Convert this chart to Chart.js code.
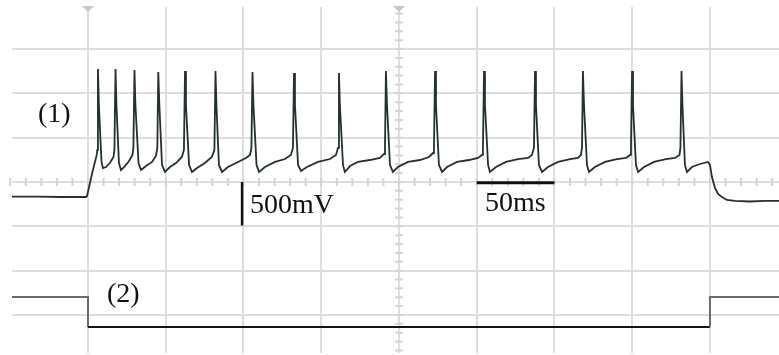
<!DOCTYPE html>
<html>
<head>
<meta charset="utf-8">
<script src="https://cdn.jsdelivr.net/npm/chart.js@4"></script>
<style>
  body { margin: 0; background: #fff; }
  canvas { display: block; }
</style>
</head>
<body>
<canvas id="scope" width="779" height="355"></canvas>
<script>
// trace (1): membrane response, time in ms, value in mV
const traceTimes = [
  1.1, 19.1, 32.0, 48.7, 49.4, 52.4, 55.6, 56.0,
  56.4, 57.0, 58.7, 59.6, 61.6, 64.1, 66.4, 67.0,
  67.7, 68.3, 69.9, 71.2, 73.8, 76.4, 78.6, 79.2,
  79.9, 80.5, 82.5, 84.1, 87.3, 91.2, 93.7, 94.6,
  95.2, 95.9, 97.6, 99.5, 102.7, 106.6, 110.4, 111.7,
  112.4, 113.0, 115.0, 116.9, 120.1, 125.2, 129.6, 131.3,
  132.0, 132.6, 134.2, 136.2, 140.0, 146.5, 151.6, 154.2, 155.1,
  155.8, 156.4, 158.4, 160.0, 163.8, 170.3, 176.7, 180.5, 181.8,
  182.5, 183.1, 185.1, 187.0, 190.8, 197.9, 205.6, 209.5, 210.8,
  211.4, 212.0, 214.0, 215.2, 218.5, 223.6, 231.3, 237.8, 240.4, 241.0,
  241.6, 242.3, 244.2, 246.1, 249.3, 255.8, 263.5, 269.3, 271.9, 272.5,
  273.2, 273.8, 275.7, 277.7, 280.9, 287.3, 295.0, 300.8, 303.4, 304.0,
  304.7, 305.3, 307.3, 308.5, 312.4, 318.8, 326.6, 333.0, 335.5, 336.8,
  337.5, 338.1, 340.0, 342.0, 345.8, 352.3, 360.0, 365.1, 367.0, 367.7,
  368.3, 369.0, 370.9, 372.2, 376.0, 382.5, 390.2, 396.0, 398.6, 399.2,
  399.9, 400.5, 402.4, 403.8, 407.6, 414.0, 421.7, 427.5, 430.4, 431.0,
  431.7, 432.3, 433.9, 435.2, 438.4, 443.6, 448.7, 450.0, 451.3, 453.2,
  455.2, 457.7, 460.9, 466.0, 475.7, 485.4, 494.4
];
const traceVolts = [
  -164, -164, -169, -169, -158, 79, 305, 361,
  1275, 869, 226, 158, 169, 214, 282, 361,
  1275, 869, 214, 135, 180, 237, 305, 384,
  1263, 869, 214, 135, 180, 226, 293, 384,
  1241, 869, 192, 113, 169, 214, 282, 361,
  1252, 869, 192, 113, 158, 214, 282, 361,
  1252, 869, 192, 113, 169, 226, 271, 305, 384,
  1241, 869, 192, 113, 169, 226, 259, 305, 384,
  1230, 869, 192, 124, 169, 226, 259, 305, 384,
  1230, 869, 192, 113, 180, 226, 248, 271, 316, 384,
  1252, 869, 192, 113, 169, 226, 248, 282, 327, 384,
  1252, 869, 192, 113, 169, 226, 248, 271, 305, 384,
  1252, 869, 192, 113, 169, 226, 259, 271, 305, 384,
  1252, 869, 192, 113, 169, 226, 259, 271, 305, 384,
  1252, 869, 192, 113, 169, 226, 259, 271, 305, 384,
  1252, 869, 192, 113, 169, 226, 259, 271, 305, 384,
  1252, 869, 192, 113, 169, 203, 226, 192, 56, -68,
  -135, -169, -203, -214, -220, -214, -214
];

// trace (2): stimulus step
const stepTimes = [1.1, 50.0, 50.0, 450.0, 450.0, 494.4];
const stepVolts = [-1297, -1297, -1636, -1636, -1297, -1297];

// scale bars (500mV, 50ms)
const barVTimes = [149.1, 149.1];
const barVVolts = [0, -490];
const barHTimes = [300, 350];
const barHVolts = [-8, -8];

// grid: 50 ms and 500 mV per division
const xGrid = [50, 100, 150, 200, 250, 300, 350, 400, 450];
const yGrid = [-1500, -1000, -500, 0, 500, 1000, 1500];

// labels [text, ms, mV]
const labels = [
  ['(1)', 17.8, 677],
  ['500mV', 154.2, -350],
  ['50ms', 305.3, -327],
  ['(2)', 62.2, -1354]
];

const toPoints = (xs, ys) => xs.map((x, i) => ({ x: x, y: ys[i] }));

// minor ticks on the centre axes + trigger markers
const scopeDecor = {
  id: 'scopeDecor',
  beforeDatasetsDraw(chart) {
    const ctx = chart.ctx;
    const xs = chart.scales.x;
    const ys = chart.scales.y;
    const cy = ys.getPixelForValue(0);
    const cx = xs.getPixelForValue(250);
    ctx.save();
    ctx.strokeStyle = '#d4d4d4';
    ctx.lineWidth = 2;
    ctx.beginPath();
    for (let t = 0; t <= 500; t += 10) {
      const px = xs.getPixelForValue(t);
      ctx.moveTo(px, cy - 4);
      ctx.lineTo(px, cy + 4);
    }
    for (let v = -2000; v <= 2000; v += 100) {
      const py = ys.getPixelForValue(v);
      if (py < chart.chartArea.top + 6) continue;
      ctx.moveTo(cx - 4, py);
      ctx.lineTo(cx + 4, py);
    }
    ctx.stroke();
    ctx.fillStyle = '#c8c8c8';
    [50, 250].forEach(t => {
      const px = xs.getPixelForValue(t);
      ctx.beginPath();
      ctx.moveTo(px - 6, 6);
      ctx.lineTo(px + 6, 6);
      ctx.lineTo(px, 12);
      ctx.closePath();
      ctx.fill();
    });
    ctx.restore();
  },
  afterDatasetsDraw(chart) {
    const ctx = chart.ctx;
    const xs = chart.scales.x;
    const ys = chart.scales.y;
    ctx.save();
    ctx.fillStyle = '#111';
    ctx.font = '28px "Liberation Serif", "Times New Roman", serif';
    ctx.textAlign = 'left';
    ctx.textBaseline = 'alphabetic';
    labels.forEach(l => {
      ctx.fillText(l[0], xs.getPixelForValue(l[1]), ys.getPixelForValue(l[2]));
    });
    ctx.restore();
  }
};

const ctx = document.getElementById('scope').getContext('2d');
const chart = new Chart(ctx, {
  type: 'line',
  data: {
    datasets: [
      {
        data: toPoints(traceTimes, traceVolts),
        borderColor: '#253030',
        borderWidth: 1.8,
        pointRadius: 0,
        tension: 0
      },
      {
        data: toPoints(stepTimes, stepVolts),
        borderWidth: 2,
        pointRadius: 0,
        tension: 0,
        segment: {
          borderColor: c => (c.p0.parsed.y < -1500 && c.p1.parsed.y < -1500) ? '#141414' : '#6a6a6a'
        }
      },
      {
        data: toPoints(barVTimes, barVVolts),
        borderColor: '#111',
        borderWidth: 2.5,
        pointRadius: 0
      },
      {
        data: toPoints(barHTimes, barHVolts),
        borderColor: '#111',
        borderWidth: 3,
        pointRadius: 0
      }
    ]
  },
  options: {
    responsive: false,
    animation: false,
    layout: { padding: { left: 12, right: 0, top: 7, bottom: 2 } },
    plugins: { legend: { display: false }, tooltip: { enabled: false } },
    scales: {
      x: {
        type: 'linear',
        min: 1.13,
        max: 494.4,
        afterBuildTicks: s => { s.ticks = xGrid.map(v => ({ value: v })); },
        ticks: { display: false },
        grid: { color: '#dedede', lineWidth: 2, drawTicks: false },
        border: { display: false }
      },
      y: {
        type: 'linear',
        min: -1929,
        max: 1974,
        afterBuildTicks: s => { s.ticks = yGrid.map(v => ({ value: v })); },
        ticks: { display: false },
        grid: { color: '#dedede', lineWidth: 2, drawTicks: false },
        border: { display: false }
      }
    }
  },
  plugins: [scopeDecor]
});
</script>
</body>
</html>
